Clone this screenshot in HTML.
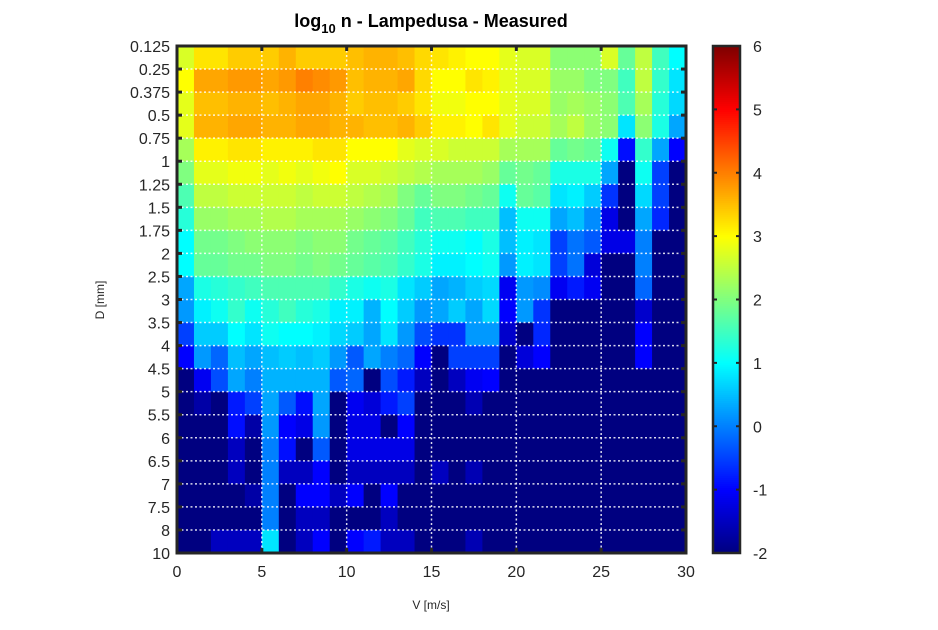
<!DOCTYPE html>
<html><head><meta charset="utf-8"><style>
body{margin:0;background:#fff;font-family:"Liberation Sans",sans-serif}
svg text{font-family:"Liberation Sans",sans-serif}
</style></head><body>
<svg id="chart" width="938" height="625" xmlns="http://www.w3.org/2000/svg"></svg>
<script>
const dLabels=["0.125","0.25","0.375","0.5","0.75","1","1.25","1.5","1.75","2","2.5","3","3.5","4","4.5","5","5.5","6","6.5","7","7.5","8","10"];
const vTicks=[0,5,10,15,20,25,30];
const cbTicks=[-2,-1,0,1,2,3,4,5,6];
const values=[
[2.7,3.2,3.2,3.4,3.4,3.4,3.6,3.4,3.4,3.4,3.5,3.6,3.6,3.5,3.3,3.2,3.1,3.0,3.0,2.8,2.7,2.7,2.1,2.1,2.1,2.7,1.8,2.5,1.5,1.0],
[3.0,3.7,3.7,3.8,3.8,3.7,3.8,4.0,3.9,3.8,3.5,3.6,3.6,3.7,3.3,3.0,3.0,3.2,3.1,2.8,2.7,2.7,2.2,2.2,2.0,2.0,1.5,2.5,1.4,0.8],
[2.8,3.5,3.5,3.6,3.6,3.5,3.6,3.7,3.7,3.6,3.4,3.5,3.5,3.4,3.2,2.9,2.9,3.0,3.0,2.8,2.7,2.7,2.2,2.3,2.2,2.1,1.6,2.3,1.3,0.7],
[2.8,3.6,3.6,3.7,3.7,3.6,3.6,3.7,3.7,3.6,3.6,3.5,3.5,3.6,3.4,3.1,3.1,3.0,3.2,2.8,2.6,2.6,2.3,2.5,2.2,2.1,0.8,2.1,1.2,0.3],
[2.3,3.1,3.1,3.2,3.2,3.1,3.1,3.1,3.2,3.2,3.0,3.0,3.0,2.8,2.7,2.7,2.6,2.6,2.6,2.3,2.3,2.3,1.8,1.9,1.8,1.1,-0.9,1.4,0.3,-1.0],
[2.0,2.8,2.8,2.9,2.9,2.8,2.9,2.8,2.9,3.0,2.7,2.7,2.6,2.5,2.4,2.3,2.3,2.3,2.2,1.8,1.9,1.8,1.2,1.2,1.2,0.3,-2,1.1,-0.5,-2],
[1.6,2.5,2.5,2.6,2.6,2.6,2.6,2.5,2.6,2.6,2.5,2.4,2.3,2.0,1.8,2.0,2.0,1.9,1.8,1.1,1.8,1.7,0.8,0.9,0.6,-0.6,-2,0.7,-0.5,-2],
[1.3,2.2,2.2,2.3,2.3,2.4,2.4,2.3,2.3,2.3,2.2,2.1,2.0,1.8,1.5,1.6,1.6,1.5,1.5,0.5,1.1,1.1,0.3,0.5,0.1,-1.2,-2,0.3,-0.7,-2],
[1.0,1.9,1.9,2.0,2.1,2.1,2.1,2.0,2.1,2.1,1.9,1.8,1.7,1.5,1.3,1.1,1.1,1.0,1.2,0.5,0.9,0.8,-0.5,-0.1,-0.3,-1.2,-1.2,0.0,-2,-2],
[1.0,1.8,1.8,1.9,1.9,2.0,2.0,1.9,2.0,1.9,1.8,1.7,1.6,1.4,1.2,0.9,0.9,1.0,1.1,0.2,0.9,0.8,-0.5,-0.1,-1.3,-2,-2,0.0,-2,-2],
[0.3,1.2,1.3,1.4,1.5,1.6,1.6,1.6,1.6,1.4,1.2,1.1,1.2,0.8,0.6,0.3,0.4,0.6,0.7,-1.1,0.2,0.1,-1.1,-0.8,-1.1,-2,-2,-0.2,-2,-2],
[0.2,0.9,1.1,1.4,1.1,1.3,1.5,1.3,1.2,0.9,0.9,0.4,1.0,0.6,0.2,0.3,0.6,0.3,0.7,-1.0,0.2,-0.6,-2,-2,-2,-2,-2,-1.4,-2,-2],
[-0.5,0.6,0.6,1.0,0.8,1.1,1.0,1.0,0.9,0.7,0.6,0.3,0.8,0.2,-0.4,-0.6,-0.6,0.2,0.2,-1.4,-2,-0.7,-2,-2,-2,-2,-2,-1.0,-2,-2],
[-1.0,0.2,-0.2,0.5,0.3,0.5,0.6,0.5,0.6,0.2,-0.3,0.3,0.0,-0.2,-1.0,-2,-0.5,-0.5,-0.5,-2,-1.3,-1.0,-2,-2,-2,-2,-2,-1.0,-2,-2],
[-2,-1.1,-0.4,0.3,0.0,0.4,0.4,0.4,0.4,-0.3,-0.2,-2,-0.4,-0.8,-1.5,-2,-1.5,-1.1,-1.0,-2,-2,-2,-2,-2,-2,-2,-2,-2,-2,-2],
[-2,-1.7,-2,-0.8,-0.5,0.3,-0.3,-0.9,0.3,-2,-1.1,-1.3,-0.8,-0.5,-2,-2,-2,-1.6,-2,-2,-2,-2,-2,-2,-2,-2,-2,-2,-2,-2],
[-2,-2,-2,-0.9,-1.7,0.2,-1.0,-1.2,0.2,-2,-1.2,-1.2,-2,-1.0,-2,-2,-2,-2,-2,-2,-2,-2,-2,-2,-2,-2,-2,-2,-2,-2],
[-2,-2,-2,-1.5,-2,0.0,-0.9,-2,-0.3,-2,-1.2,-1.2,-1.2,-1.2,-2,-2,-2,-2,-2,-2,-2,-2,-2,-2,-2,-2,-2,-2,-2,-2],
[-2,-2,-2,-1.5,-2,0.0,-1.5,-1.5,-1.0,-2,-1.5,-1.5,-1.5,-1.5,-2,-1.5,-2,-1.6,-2,-2,-2,-2,-2,-2,-2,-2,-2,-2,-2,-2],
[-2,-2,-2,-2,-1.7,0.0,-2,-1.0,-1.0,-1.5,-1.0,-2,-1.0,-2,-2,-2,-2,-2,-2,-2,-2,-2,-2,-2,-2,-2,-2,-2,-2,-2],
[-2,-2,-2,-2,-2,0.0,-2,-1.5,-1.5,-2,-2,-2,-1.5,-2,-2,-2,-2,-2,-2,-2,-2,-2,-2,-2,-2,-2,-2,-2,-2,-2],
[-2,-2,-1.5,-1.5,-1.5,0.8,-2,-1.5,-1.0,-2,-1.0,-0.8,-1.5,-1.5,-2,-2,-2,-1.6,-2,-2,-2,-2,-2,-2,-2,-2,-2,-2,-2,-2]
];
const NS="http://www.w3.org/2000/svg";
const svg=document.getElementById('chart');
const X0=177,X1=686,Y0=46,Y1=553,VMIN=0,VMAX=30,CMIN=-2,CMAX=6;
const nRows=dLabels.length-1;
function xs(v){return X0+(v-VMIN)/(VMAX-VMIN)*(X1-X0);}
function ys(i){return Y0+i/nRows*(Y1-Y0);}
function jet(v){let t=(v-CMIN)/(CMAX-CMIN);t=Math.max(0,Math.min(1,t));
 const f=x=>Math.round(255*Math.max(0,Math.min(1,x)));
 return `rgb(${f(Math.min(4*t-1.5,-4*t+4.5))},${f(Math.min(4*t-0.5,-4*t+3.5))},${f(Math.min(4*t+0.5,-4*t+2.5))})`;}
function el(tag,a,txt){const e=document.createElementNS(NS,tag);for(const k in a)e.setAttribute(k,a[k]);if(txt!==undefined)e.textContent=txt;svg.appendChild(e);return e;}
const cw=(X1-X0)/VMAX;
values.forEach((row,i)=>row.forEach((v,j)=>{
 const r=el('rect',{x:xs(j),y:ys(i),width:cw+0.6,height:ys(i+1)-ys(i)+0.6,fill:jet(v)});
 
 
}));
// grid
vTicks.slice(1,-1).forEach(v=>{const g=el('line',{x1:xs(v),x2:xs(v),y1:Y0,y2:Y1,stroke:'#fff','stroke-width':1.5,'stroke-dasharray':'2,2.5',opacity:0.85});
 });
for(let i=1;i<nRows;i++){const g=el('line',{x1:X0,x2:X1,y1:ys(i),y2:ys(i),stroke:'#fff','stroke-width':1.5,'stroke-dasharray':'2,2.5',opacity:0.85});
 }
// frame
const fr=el('rect',{x:X0,y:Y0,width:X1-X0,height:Y1-Y0,fill:'none',stroke:'#262626','stroke-width':3});

// ticks
vTicks.forEach(v=>{el('line',{x1:xs(v),x2:xs(v),y1:Y1,y2:Y1-5,stroke:'#262626','stroke-width':3});el('line',{x1:xs(v),x2:xs(v),y1:Y0,y2:Y0+5,stroke:'#262626','stroke-width':3});
 const t=el('text',{x:xs(v),y:Y1+24,'text-anchor':'middle','font-size':16,fill:'#262626'},String(v));
 });
dLabels.forEach((l,i)=>{el('line',{x1:X0,x2:X0+5,y1:ys(i),y2:ys(i),stroke:'#262626','stroke-width':3});el('line',{x1:X1,x2:X1-5,y1:ys(i),y2:ys(i),stroke:'#262626','stroke-width':3});
 const t=el('text',{x:X0-7,y:ys(i)+6,'text-anchor':'end','font-size':16,fill:'#262626'},l);
 });
// labels
const xt=el('text',{x:431,y:609,'text-anchor':'middle','font-size':12,fill:'#262626'},'V [m/s]');

const yt=el('text',{x:0,y:0,transform:'translate(104,300) rotate(-90)','text-anchor':'middle','font-size':12,fill:'#262626'},'D [mm]');

const tt=el('text',{x:431,y:27,'text-anchor':'middle','font-size':18,'font-weight':'bold',fill:'#000'});

tt.innerHTML='log<tspan font-size="13" dy="6">10</tspan><tspan dy="-6"> n - Lampedusa - Measured</tspan>';
// colorbar
const CX0=713,CX1=740;
function cy(v){return Y1-(v-CMIN)/(CMAX-CMIN)*(Y1-Y0);}
for(let k=0;k<256;k++){const v0=CMIN+k/256*(CMAX-CMIN),v1=CMIN+(k+1)/256*(CMAX-CMIN);
 const r=el('rect',{x:CX0,y:cy(v1),width:CX1-CX0,height:cy(v0)-cy(v1)+0.5,fill:jet((v0+v1)/2)});
 }
const cf=el('rect',{x:CX0,y:Y0,width:CX1-CX0,height:Y1-Y0,fill:'none',stroke:'#262626','stroke-width':2.5});

cbTicks.forEach(v=>{el('line',{x1:CX0,x2:CX0+4,y1:cy(v),y2:cy(v),stroke:'#262626','stroke-width':2});el('line',{x1:CX1,x2:CX1-4,y1:cy(v),y2:cy(v),stroke:'#262626','stroke-width':2});
 const t=el('text',{x:CX1+13,y:cy(v)+6,'font-size':16,fill:'#262626'},String(v));
 });
</script>
</body></html>
